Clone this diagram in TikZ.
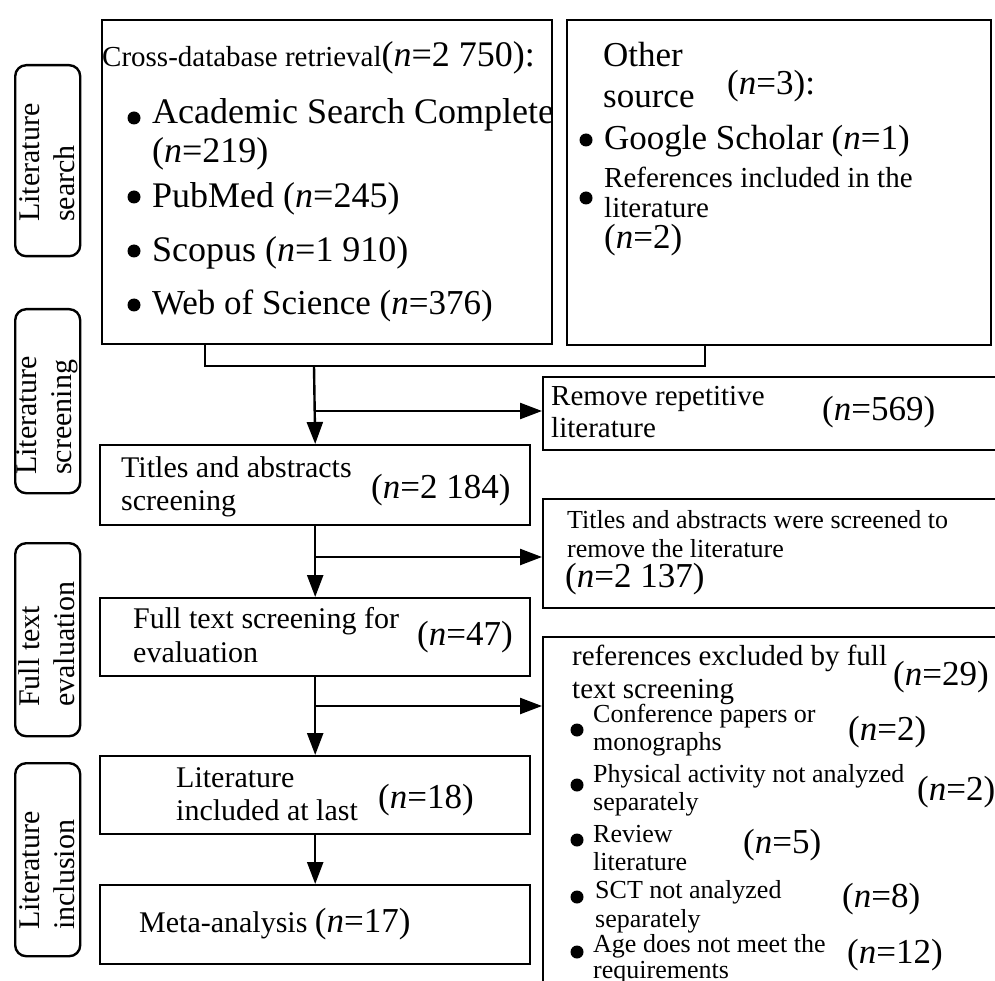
\documentclass[tikz,border=0pt]{standalone}
\usepackage{fontspec}
\setmainfont{Liberation Serif}
\usetikzlibrary{arrows.meta}
\newcommand\fsz[1]{\fontsize{#1}{#1}\selectfont}
\newcommand\nval[1]{(\textit{n}=#1)}
\begin{document}
\begin{tikzpicture}[x=1pt,y=-1pt,
  box/.style={draw, line width=2.4pt, rectangle, inner sep=0pt, anchor=north west},
  sidebox/.style={draw, line width=2.4pt, rectangle, rounded corners=11pt, inner sep=0pt, anchor=north west, minimum width=65pt},
  sidetxt/.style={rotate=90, anchor=west, align=left, inner sep=0pt, font=\fontsize{30}{35}\selectfont},
  txt/.style={anchor=base west, inner sep=0pt, font=\fsz{30}},
  stxt/.style={anchor=base west, inner sep=0pt, font=\fsz{26}},
  mtxt/.style={anchor=base west, inner sep=0pt, font=\fsz{29}},
  btxt/.style={anchor=base west, inner sep=0pt, font=\fsz{35}},
  bul/.style={circle, fill, inner sep=0pt, minimum size=13pt},
  ln/.style={line width=2.4pt},
  arr/.style={line width=2.4pt, -{Triangle[length=22pt,width=16pt]}}]
\useasboundingbox (0,0) rectangle (995,981);
\clip (0,0) rectangle (995,981);
% side labels
\node[sidebox, minimum height=191pt] (s1) at (14,64) {};
\node[sidebox, minimum height=184pt] (s2) at (14,308) {};
\node[sidebox, minimum height=193pt] (s3) at (14,542) {};
\node[sidebox, minimum height=193pt] (s4) at (14,762) {};
\node[sidetxt] (s1t) at (47,222) {Literature\\search};
\node[sidetxt] (s2t) at (47,475) {Literature\\screening};
\node[sidetxt] (s3t) at (47,707) {Full text\\evaluation};
\node[sidetxt] (s4t) at (47,930) {Literature\\inclusion};
% boxes
\node[box, minimum width=450pt, minimum height=324pt] (cross) at (101,19) {};
\node[box, minimum width=424pt, minimum height=325pt] (other) at (566,19) {};
\node[box, minimum width=470pt, minimum height=73pt] (remove) at (542,376) {};
\node[box, minimum width=430pt, minimum height=80pt] (tas) at (99,444) {};
\node[box, minimum width=470pt, minimum height=109pt] (tasrm) at (542,498) {};
\node[box, minimum width=430pt, minimum height=78pt] (fts) at (99,597) {};
\node[box, minimum width=470pt, minimum height=370pt] (refx) at (542,636) {};
\node[box, minimum width=430pt, minimum height=78pt] (incl) at (99,755) {};
\node[box, minimum width=430pt, minimum height=79pt] (meta) at (99,884) {};
% connectors
\coordinate (ml) at (205,366);
\coordinate (mr) at (705,366);
\coordinate (mj) at (314,366);
\draw[ln] (ml |- cross.south) -- (ml) -- (mr) -- (mr |- other.south);
\draw[arr] (mj) -- (tas.north);
\coordinate (b1) at (314,411);
\draw[arr] (b1) -- (b1 -| remove.west);
\draw[arr] (tas.south) -- (fts.north);
\coordinate (b2) at (314,557);
\draw[arr] (b2) -- (b2 -| tasrm.west);
\draw[arr] (fts.south) -- (incl.north);
\coordinate (b3) at (314,706);
\draw[arr] (b3) -- (b3 -| refx.west);
\draw[arr] (incl.south) -- (meta.north);
% cross-database text
\node[txt] (c0) at (102,67) {{\fsz{29}Cross-database retrieval}{\fsz{36}\nval{2 750}:}};
\node[bul] (cb1) at (134,118) {};
\node[bul] (cb2) at (134,197) {};
\node[bul] (cb3) at (134,251) {};
\node[bul] (cb4) at (134,305) {};
\node[btxt, font=\fsz{36}] (c1) at (152,124) {Academic Search Complete};
\node[btxt, font=\fsz{36}] (c2) at (152,163) {\nval{219}};
\node[btxt, font=\fsz{36}] (c3) at (152,208) {PubMed \nval{245}};
\node[btxt, font=\fsz{36}] (c4) at (152,262) {Scopus \nval{1 910}};
\node[btxt] (c5) at (152,315) {Web of Science \nval{376}};
% other source
\node[btxt] (o1) at (603,67) {Other};
\node[btxt] (o2) at (603,108) {source};
\node[btxt] (o3) at (727,95) {\nval{3}:};
\node[bul] (ob1) at (586,140) {};
\node[btxt] (o4) at (604,150) {Google Scholar \nval{1}};
\node[bul] (ob2) at (586,198) {};
\node[mtxt] (o5) at (604,188) {References included in the};
\node[mtxt] (o6) at (604,218) {literature};
\node[btxt] (o7) at (604,249) {\nval{2}};
% remove
\node[mtxt] (r1) at (551,405) {Remove repetitive};
\node[mtxt] (r2) at (551,437) {literature};
\node[btxt] (r3) at (822,420) {\nval{569}};
% titles and abstracts
\node[txt] (t1) at (121,477) {Titles and abstracts};
\node[txt] (t2) at (121,510) {screening};
\node[btxt] (t3) at (371,498) {\nval{2 184}};
\node[stxt] (u1) at (567,528) {Titles and abstracts were screened to};
\node[stxt] (u2) at (567,557) {remove the literature};
\node[btxt] (u3) at (565,587) {\nval{2 137}};
% full text
\node[txt] (f1) at (133,628) {Full text screening for};
\node[txt] (f2) at (133,662) {evaluation};
\node[btxt] (f3) at (417,645) {\nval{47}};
% references excluded
\node[mtxt] (x0a) at (572,665) {references excluded by full};
\node[mtxt] (x0b) at (572,698) {text screening};
\node[btxt] (x0c) at (893,685) {\nval{29}};
\node[bul] (xb1) at (577,730) {};
\node[bul] (xb2) at (577,785) {};
\node[bul] (xb3) at (577,840) {};
\node[bul] (xb4) at (577,897) {};
\node[bul] (xb5) at (577,952) {};
\node[stxt] (x1a) at (593,722) {Conference papers or};
\node[stxt] (x1b) at (593,750) {monographs};
\node[btxt] (x1c) at (848,740) {\nval{2}};
\node[stxt] (x2a) at (593,782) {Physical activity not analyzed};
\node[stxt] (x2b) at (593,810) {separately};
\node[btxt] (x2c) at (917,800) {\nval{2}};
\node[stxt] (x3a) at (593,842) {Review};
\node[stxt] (x3b) at (593,870) {literature};
\node[btxt] (x3c) at (743,853) {\nval{5}};
\node[stxt] (x4a) at (595,898) {SCT not analyzed};
\node[stxt] (x4b) at (595,927) {separately};
\node[btxt] (x4c) at (842,907) {\nval{8}};
\node[stxt] (x5a) at (593,952) {Age does not meet the};
\node[stxt] (x5b) at (593,978) {requirements};
\node[btxt] (x5c) at (847,963) {\nval{12}};
% included
\node[txt] (i1) at (176,787) {Literature};
\node[txt] (i2) at (176,820) {included at last};
\node[btxt] (i3) at (378,808) {\nval{18}};
\node[txt] (m1) at (139,932) {Meta-analysis {\fsz{35}\nval{17}}};
\end{tikzpicture}
\end{document}
